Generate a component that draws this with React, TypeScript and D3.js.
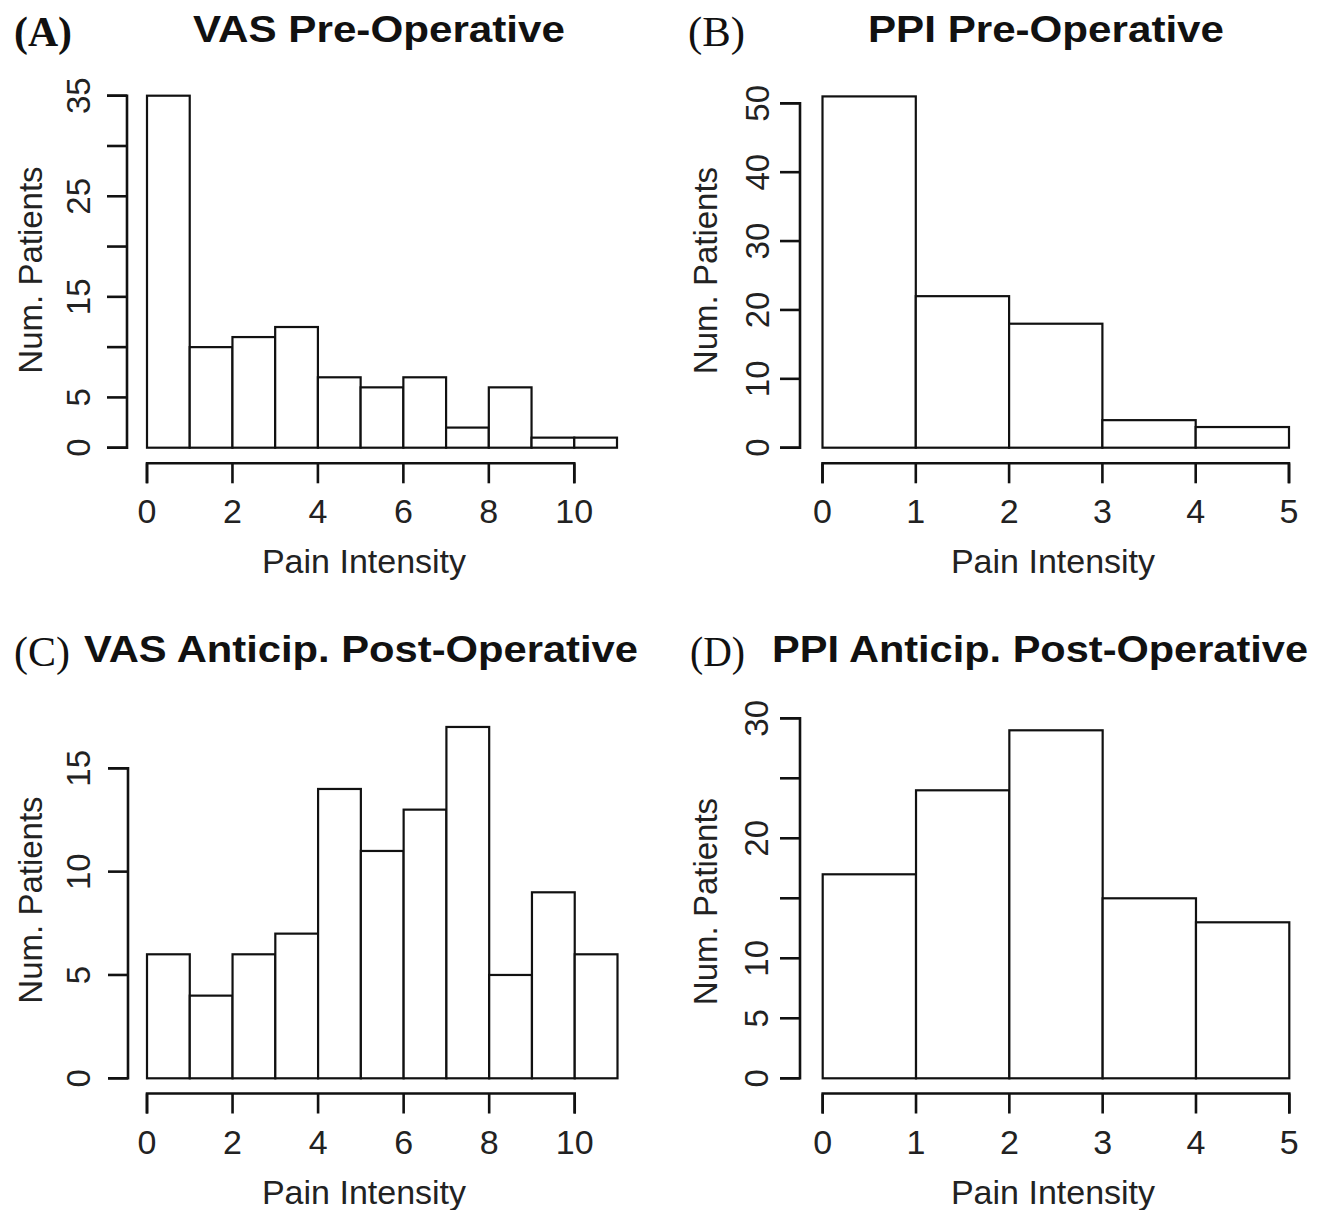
import React from 'react';
import * as d3 from 'd3';

// ---- data ----
const vasBreaks = [0, 1, 2, 3, 4, 5, 6, 7, 8, 9, 10, 11];
const ppiBreaks = [0, 1, 2, 3, 4, 5];
const vasPreCounts = [35, 10, 11, 12, 7, 6, 7, 2, 6, 1, 1];
const ppiPreCounts = [51, 22, 18, 4, 3];
const vasPostCounts = [6, 4, 6, 7, 14, 11, 13, 17, 5, 9, 6];
const ppiPostCounts = [17, 24, 29, 15, 13];
const vasXTicks = [0, 2, 4, 6, 8, 10];
const ppiXTicks = [0, 1, 2, 3, 4, 5];
const vasPreYTicks = [0, 5, 10, 15, 20, 25, 30, 35];
const vasPreYLabels = [0, 5, 15, 25, 35];
const ppiPreYTicks = [0, 10, 20, 30, 40, 50];
const ppiPreYLabels = [0, 10, 20, 30, 40, 50];
const vasPostYTicks = [0, 5, 10, 15];
const vasPostYLabels = [0, 5, 10, 15];
const ppiPostYTicks = [0, 5, 10, 15, 20, 25, 30];
const ppiPostYLabels = [0, 5, 10, 20, 30];
const panelLetters = ['(A)', '(B)', '(C)', '(D)'];
const panelTitles = ['VAS Pre-Operative', 'PPI Pre-Operative', 'VAS Anticip. Post-Operative', 'PPI Anticip. Post-Operative'];
const xLabel = 'Pain Intensity';
const yLabel = 'Num. Patients';

// ---- layout ----
const panels = [
  {
    breaks: vasBreaks, counts: vasPreCounts, xTicks: vasXTicks, yTicks: vasPreYTicks, yLabels: vasPreYLabels,
    xDomain: [0, 11], xRange: [147, 617], yDomain: [0, 35], yRange: [447.7, 95.7],
    yAxisX: 127, xAxisY: 463.3, yLabelX: 90, yTitleX: 42, yTitleY: 270, xTitleX: 364,
    letter: { x: 14, w: 58, y: 46, bold: true }, title: { x: 193, w: 372, y: 42 },
  },
  {
    breaks: ppiBreaks, counts: ppiPreCounts, xTicks: ppiXTicks, yTicks: ppiPreYTicks, yLabels: ppiPreYLabels,
    xDomain: [0, 5], xRange: [822.5, 1289], yDomain: [0, 50], yRange: [447.7, 103.3],
    yAxisX: 800, xAxisY: 463.3, yLabelX: 769, yTitleX: 717, yTitleY: 270.5, xTitleX: 1053,
    letter: { x: 688, w: 57, y: 46, bold: false }, title: { x: 868, w: 356, y: 42 },
  },
  {
    breaks: vasBreaks, counts: vasPostCounts, xTicks: vasXTicks, yTicks: vasPostYTicks, yLabels: vasPostYLabels,
    xDomain: [0, 11], xRange: [147, 617.5], yDomain: [0, 15], yRange: [1078.3, 768.3],
    yAxisX: 128, xAxisY: 1093.5, yLabelX: 90, yTitleX: 42, yTitleY: 900, xTitleX: 364,
    letter: { x: 14, w: 56, y: 666, bold: false }, title: { x: 84, w: 554, y: 662 },
  },
  {
    breaks: ppiBreaks, counts: ppiPostCounts, xTicks: ppiXTicks, yTicks: ppiPostYTicks, yLabels: ppiPostYLabels,
    xDomain: [0, 5], xRange: [822.7, 1289.3], yDomain: [0, 30], yRange: [1078.3, 718.3],
    yAxisX: 800, xAxisY: 1093.5, yLabelX: 768, yTitleX: 717, yTitleY: 901.5, xTitleX: 1053,
    letter: { x: 690, w: 55, y: 666, bold: false }, title: { x: 772, w: 536, y: 662 },
  },
];

const SANS = '"Liberation Sans", Arial, Helvetica, sans-serif';
const SERIF = '"Liberation Serif", "Times New Roman", serif';
const TICK = 20;

function Panel({ p, i }: { p: any; i: number }) {
  const x = d3.scaleLinear().domain(p.xDomain).range(p.xRange);
  const y = d3.scaleLinear().domain(p.yDomain).range(p.yRange);
  const bins = p.counts.map((c: number, k: number) => ({ x0: p.breaks[k], x1: p.breaks[k + 1], c }));
  const xt = p.xTicks;
  const yt = p.yTicks;
  return (
    <g>
      {/* bars */}
      {bins.map((b: any, k: number) => (
        <rect key={k} x={x(b.x0)} y={y(b.c)} width={x(b.x1) - x(b.x0)} height={y(0) - y(b.c)}
          fill="#fff" stroke="#111" strokeWidth={2.2} />
      ))}
      {/* x axis */}
      <path d={`M${x(xt[0])},${p.xAxisY + TICK}V${p.xAxisY}H${x(xt[xt.length - 1])}V${p.xAxisY + TICK}`}
        fill="none" stroke="#111" strokeWidth={2.6} />
      {xt.map((t: number) => (
        <g key={t}>
          <line x1={x(t)} x2={x(t)} y1={p.xAxisY} y2={p.xAxisY + TICK} stroke="#111" strokeWidth={2.6} />
          <text x={x(t)} y={p.xAxisY + 60} textAnchor="middle" fontFamily={SANS} fontSize={34} fill="#222">{t}</text>
        </g>
      ))}
      <text x={p.xTitleX} y={p.xAxisY + 110} textAnchor="middle" fontFamily={SANS} fontSize={34} fill="#222">{xLabel}</text>
      {/* y axis */}
      <path d={`M${p.yAxisX - TICK},${y(yt[0])}H${p.yAxisX}V${y(yt[yt.length - 1])}H${p.yAxisX - TICK}`}
        fill="none" stroke="#111" strokeWidth={2.6} />
      {yt.map((t: number) => (
        <line key={t} x1={p.yAxisX - TICK} x2={p.yAxisX} y1={y(t)} y2={y(t)} stroke="#111" strokeWidth={2.6} />
      ))}
      {p.yLabels.map((t: number) => (
        <text key={t} transform={`translate(${p.yLabelX},${y(t)}) rotate(-90)`} textAnchor="middle"
          fontFamily={SANS} fontSize={33} fill="#222">{t}</text>
      ))}
      <text transform={`translate(${p.yTitleX},${p.yTitleY}) rotate(-90)`} textAnchor="middle"
        fontFamily={SANS} fontSize={33} fill="#222">{yLabel}</text>
      {/* titles */}
      <text x={p.letter.x} y={p.letter.y} fontFamily={SERIF} fontSize={42} fontWeight={p.letter.bold ? 'bold' : 'normal'}
        textLength={p.letter.w} lengthAdjust="spacingAndGlyphs" fill="#111">{panelLetters[i]}</text>
      <text x={p.title.x} y={p.title.y} fontFamily={SANS} fontSize={37} fontWeight="bold"
        textLength={p.title.w} lengthAdjust="spacingAndGlyphs" fill="#111">{panelTitles[i]}</text>
    </g>
  );
}

export default function App() {
  return (
    <svg width={1328} height={1210} style={{ position: 'absolute', left: 0, top: 0, background: '#fff' }}>
      <rect x={0} y={0} width={1328} height={1210} fill="#fff" />
      {panels.map((p, i) => <Panel key={i} p={p} i={i} />)}
    </svg>
  );
}
